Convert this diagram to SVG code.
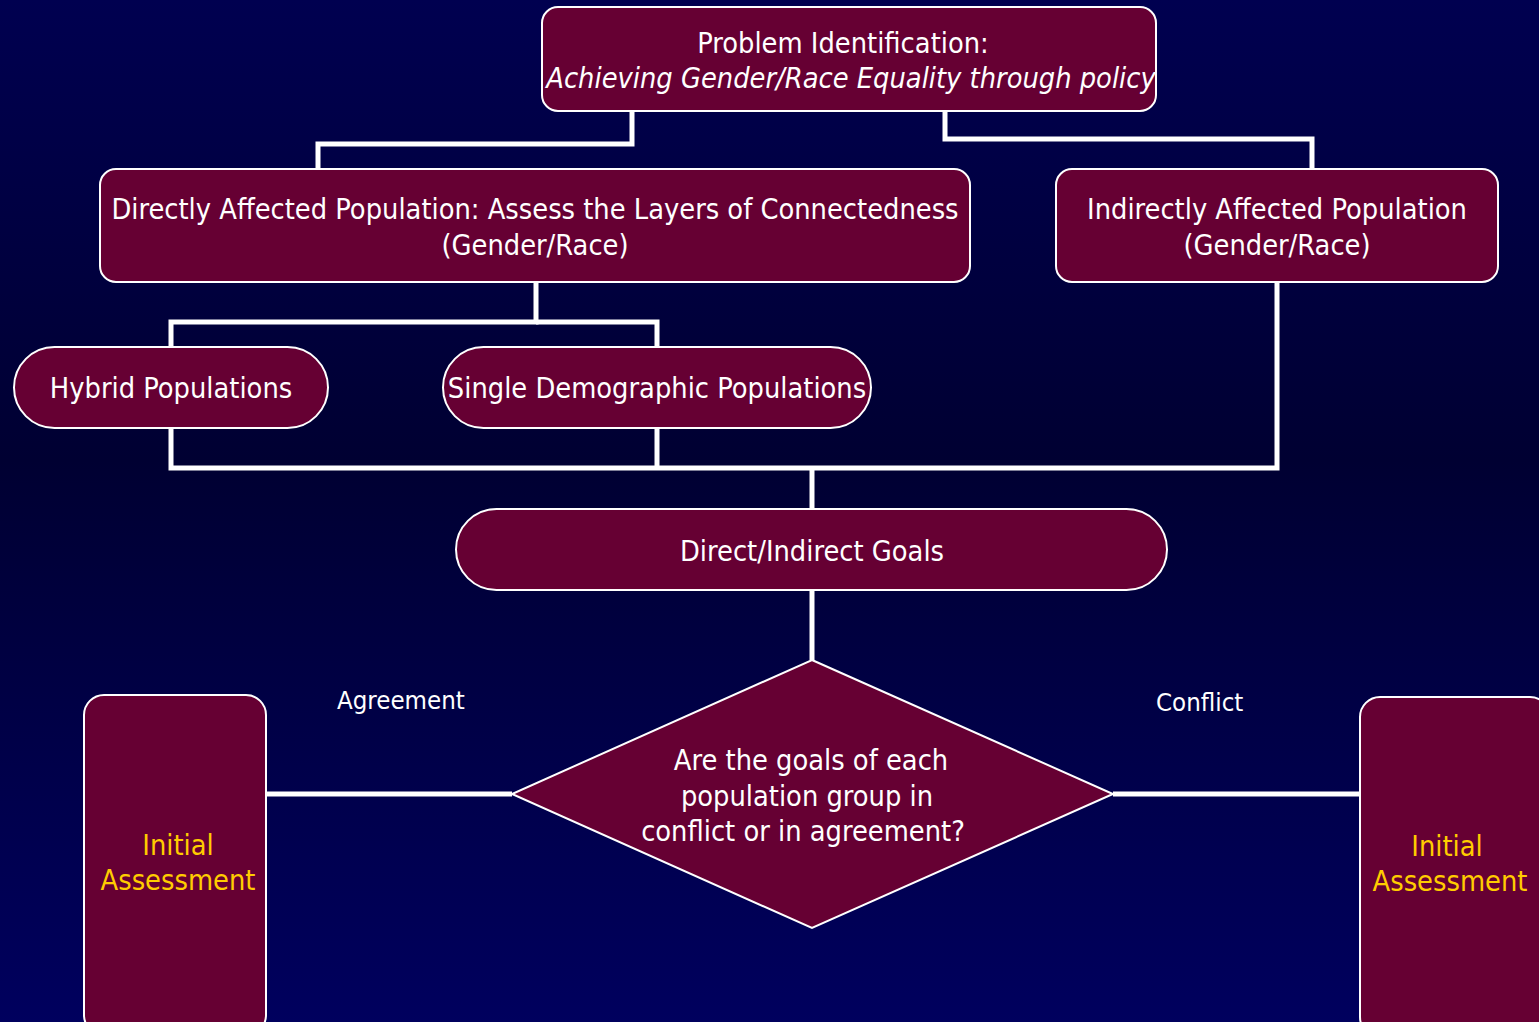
<svg xmlns="http://www.w3.org/2000/svg" width="1539" height="1022" viewBox="0 0 1539 1022">
<defs>
<linearGradient id="bg" x1="0" y1="0" x2="0" y2="1">
<stop offset="0" stop-color="#000050"/>
<stop offset="0.45" stop-color="#000032"/>
<stop offset="1" stop-color="#00005e"/>
</linearGradient>
</defs>
<style>
.box{fill:#660033;stroke:#ffffff;stroke-width:2}
.t{font-family:"DejaVu Sans Condensed","DejaVu Sans",sans-serif;font-size:28.7px;fill:#ffffff;text-anchor:middle}
.g{fill:#ffcc00}
.lbl{font-family:"DejaVu Sans Condensed","DejaVu Sans",sans-serif;font-size:25.6px;fill:#ffffff}
.c{fill:none;stroke:#ffffff;stroke-width:5}
</style>
<rect x="0" y="0" width="1539" height="1022" fill="url(#bg)"/>
<g id="connectors">
<polyline class="c" points="632,111 632,144 318,144 318,169"/>
<polyline class="c" points="945,111 945,139 1312,139 1312,169"/>
<polyline class="c" points="536,282 536,322 171,322 171,347"/>
<polyline class="c" points="536,322 657,322 657,347"/>
<polyline class="c" points="171,428 171,468 1277,468 1277,282"/>
<polyline class="c" points="657,428 657,468"/>
<polyline class="c" points="812,468 812,509"/>
<polyline class="c" points="812,590 812,660"/>
<polyline class="c" points="266,794 512,794"/>
<polyline class="c" points="1113,794 1360,794"/>
</g>
<g id="problem">
<rect class="box" x="542" y="7" width="614" height="104" rx="16"/>
<text class="t" x="843" y="53">Problem Identification:</text>
<text class="t" x="851" y="88" font-style="italic">Achieving Gender/Race Equality through policy</text>
</g>
<g id="direct">
<rect class="box" x="100" y="169" width="870" height="113" rx="16"/>
<text class="t" x="535" y="219">Directly Affected Population: Assess the Layers of Connectedness</text>
<text class="t" x="535" y="255">(Gender/Race)</text>
</g>
<g id="indirect">
<rect class="box" x="1056" y="169" width="442" height="113" rx="16"/>
<text class="t" x="1277" y="219">Indirectly Affected Population</text>
<text class="t" x="1277" y="255">(Gender/Race)</text>
</g>
<g id="hybrid">
<rect class="box" x="14" y="347" width="314" height="81" rx="40.5"/>
<text class="t" x="171" y="398">Hybrid Populations</text>
</g>
<g id="single">
<rect class="box" x="443" y="347" width="428" height="81" rx="40.5"/>
<text class="t" x="657" y="398">Single Demographic Populations</text>
</g>
<g id="goals">
<rect class="box" x="456" y="509" width="711" height="81" rx="40.5"/>
<text class="t" x="812" y="561">Direct/Indirect Goals</text>
</g>
<g id="decision">
<polygon class="box" points="812,660 1113,794 812,928 512,794"/>
<text class="t" x="811" y="770">Are the goals of each</text>
<text class="t" x="807" y="806">population group in</text>
<text class="t" x="803" y="841">conflict or in agreement?</text>
</g>
<g id="agreement-label">
<text class="lbl" x="337" y="709">Agreement</text>
</g>
<g id="conflict-label">
<text class="lbl" x="1156" y="711">Conflict</text>
</g>
<g id="initial-left">
<rect class="box" x="84" y="695" width="182" height="340" rx="20"/>
<text class="t g" x="178" y="855">Initial</text>
<text class="t g" x="178" y="890">Assessment</text>
</g>
<g id="initial-right">
<rect class="box" x="1360" y="697" width="190" height="340" rx="20"/>
<text class="t g" x="1447" y="856">Initial</text>
<text class="t g" x="1450" y="891">Assessment</text>
</g>
</svg>
